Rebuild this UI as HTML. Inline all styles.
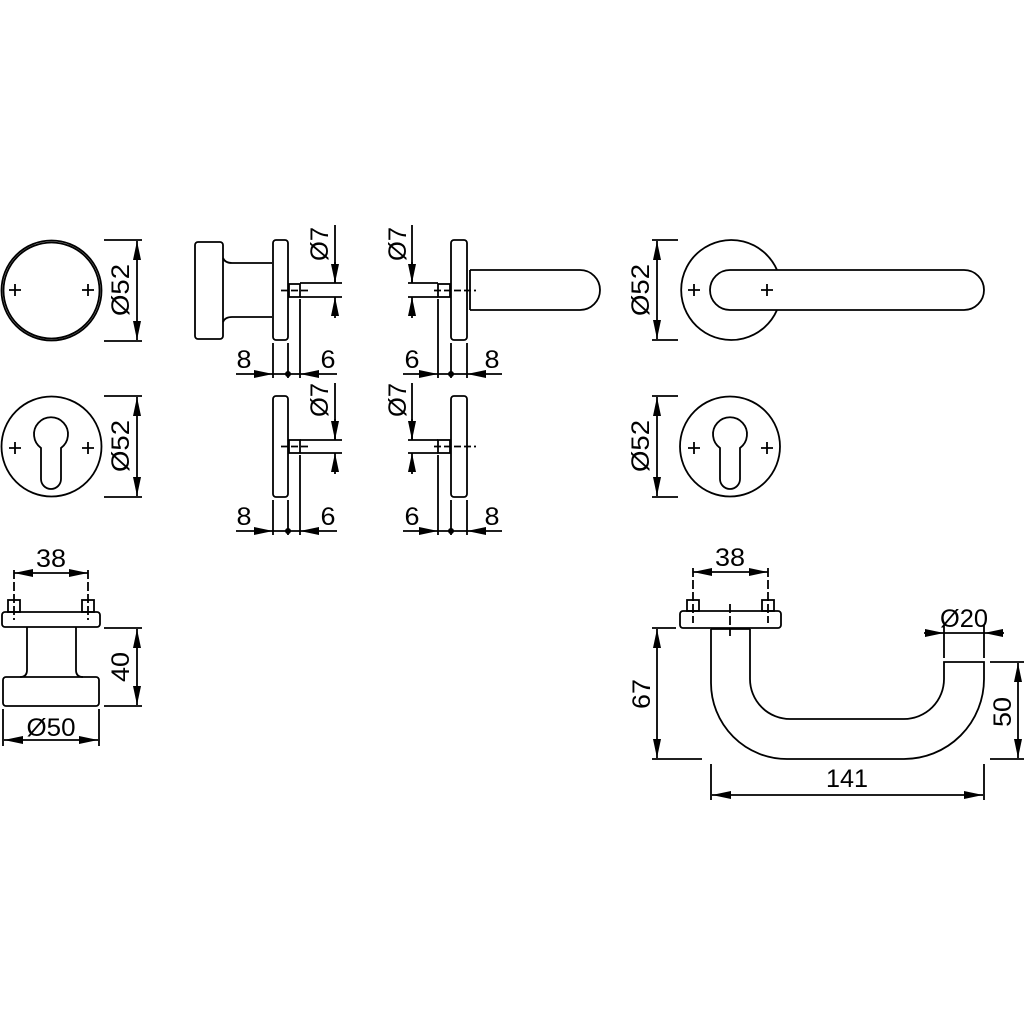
<!DOCTYPE html>
<html><head><meta charset="utf-8"><style>
html,body{margin:0;padding:0;background:#fff}
svg{display:block}
text{font-family:"Liberation Sans",Arial,sans-serif;font-size:25px;fill:#000}
</style></head><body>
<svg width="1024" height="1024" viewBox="0 0 1024 1024" xmlns="http://www.w3.org/2000/svg">
<defs>
<marker id="a" markerUnits="userSpaceOnUse" markerWidth="20" markerHeight="9" refX="19" refY="4.5" orient="auto-start-reverse" viewBox="0 0 20 9">
<path d="M0,0.5 L19,4.5 L0,8.5 Z" fill="#000"/></marker>
</defs>
<g fill="none" stroke="#000" stroke-width="1.8">
<circle cx="51.5" cy="290.5" r="50"/>
<circle cx="51.5" cy="290.5" r="48"/>
<path d="M9,290h12M15,284v12M82,290h12M88,284v12"/>
<path d="M104,240h38M104,341h38"/>
<line x1="137" y1="290" x2="137" y2="241" marker-end="url(#a)"/>
<line x1="137" y1="290" x2="137" y2="340" marker-end="url(#a)"/>
<rect x="195" y="242" width="28" height="97" rx="3"/>
<path d="M223,258 Q225,263 232,263 H272 M223,322 Q225,317 232,317 H272"/>
<rect x="273" y="240" width="15" height="100" rx="3"/>
<rect x="289" y="284" width="11" height="13"/>
<path d="M281,290.5h30" stroke-dasharray="7,3"/>
<path d="M300,283h42M300,297h42"/>
<path d="M335,225v58"/><line x1="335" y1="262" x2="335" y2="283" marker-end="url(#a)"/>
<line x1="335" y1="318" x2="335" y2="297" marker-end="url(#a)"/>
<path d="M273,343v35M288,343v35M300,299v79"/>
<line x1="236" y1="374" x2="273" y2="374" marker-end="url(#a)"/>
<line x1="273" y1="374" x2="300" y2="374"/>
<line x1="337" y1="374" x2="300" y2="374" marker-end="url(#a)"/>
<circle cx="51.5" cy="446.5" r="50"/>
<path d="M41,479 V448 A17,17 0 1 1 61,448 V479 A10,10 0 0 1 41,479 Z"/>
<path d="M9,448h12M15,442v12M82,448h12M88,442v12"/>
<path d="M104,396h38M104,497h38"/>
<line x1="137" y1="446" x2="137" y2="397" marker-end="url(#a)"/>
<line x1="137" y1="446" x2="137" y2="496" marker-end="url(#a)"/>
<rect x="273" y="396" width="15" height="101" rx="3"/>
<rect x="289" y="440" width="11" height="13"/>
<path d="M281,446.5h30" stroke-dasharray="7,3"/>
<path d="M300,440h42M300,453h42"/>
<path d="M335,383v57"/><line x1="335" y1="419" x2="335" y2="440" marker-end="url(#a)"/>
<line x1="335" y1="474" x2="335" y2="453" marker-end="url(#a)"/>
<path d="M273,500v35M288,500v35M300,455v80"/>
<line x1="236" y1="531" x2="273" y2="531" marker-end="url(#a)"/>
<line x1="273" y1="531" x2="300" y2="531"/>
<line x1="337" y1="531" x2="300" y2="531" marker-end="url(#a)"/>
<rect x="451" y="240" width="16" height="100" rx="3"/>
<path d="M470,270 V310 M470,270 H580 A20,20 0 0 1 580,310 H470"/>
<rect x="438" y="284" width="12" height="13"/>
<path d="M434,290.5h42" stroke-dasharray="7,3"/>
<path d="M408,283h30M408,297h30"/>
<path d="M412,225v58"/><line x1="412" y1="262" x2="412" y2="283" marker-end="url(#a)"/>
<line x1="412" y1="318" x2="412" y2="297" marker-end="url(#a)"/>
<path d="M438,299v79M451,343v35M467,343v35"/>
<line x1="403" y1="374" x2="438" y2="374" marker-end="url(#a)"/>
<line x1="438" y1="374" x2="467" y2="374"/>
<line x1="502" y1="374" x2="467" y2="374" marker-end="url(#a)"/>
<rect x="451" y="396" width="16" height="101" rx="3"/>
<rect x="438" y="440" width="12" height="13"/>
<path d="M434,446.5h42" stroke-dasharray="7,3"/>
<path d="M408,440h30M408,453h30"/>
<path d="M412,383v57"/><line x1="412" y1="419" x2="412" y2="440" marker-end="url(#a)"/>
<line x1="412" y1="474" x2="412" y2="453" marker-end="url(#a)"/>
<path d="M438,455v80M451,500v35M467,500v35"/>
<line x1="403" y1="531" x2="438" y2="531" marker-end="url(#a)"/>
<line x1="438" y1="531" x2="467" y2="531"/>
<line x1="502" y1="531" x2="467" y2="531" marker-end="url(#a)"/>
<path d="M777,270 A50,50 0 1 0 777,310"/>
<path d="M730,270 H964 A20,20 0 0 1 964,310 H730 A20,20 0 0 1 730,270 Z"/>
<path d="M688,290h12M694,284v12M761,290h12M767,284v12"/>
<path d="M652,240h26M652,340h26"/>
<line x1="657" y1="290" x2="657" y2="241" marker-end="url(#a)"/>
<line x1="657" y1="290" x2="657" y2="339" marker-end="url(#a)"/>
<circle cx="730" cy="446.5" r="50"/>
<path d="M720,479 V448 A17,17 0 1 1 740,448 V479 A10,10 0 0 1 720,479 Z"/>
<path d="M688,448h12M694,442v12M761,448h12M767,442v12"/>
<path d="M652,396h26M652,497h26"/>
<line x1="657" y1="446" x2="657" y2="397" marker-end="url(#a)"/>
<line x1="657" y1="446" x2="657" y2="496" marker-end="url(#a)"/>
<rect x="2" y="612" width="98" height="15" rx="3"/>
<rect x="8" y="600" width="12" height="12"/>
<rect x="82" y="600" width="12" height="12"/>
<path d="M14,570v50M88,570v50" stroke-dasharray="9,3"/>
<line x1="51" y1="573" x2="14" y2="573" marker-end="url(#a)"/>
<line x1="51" y1="573" x2="88" y2="573" marker-end="url(#a)"/>
<path d="M27,627 V670 Q27,677 20,677 M76,627 V670 Q76,677 83,677"/>
<rect x="3" y="677" width="96" height="29" rx="3"/>
<path d="M104,628h38M104,706h38"/>
<line x1="137" y1="667" x2="137" y2="629" marker-end="url(#a)"/>
<line x1="137" y1="667" x2="137" y2="705" marker-end="url(#a)"/>
<path d="M3,709v37M99,709v37"/>
<line x1="51" y1="740" x2="4" y2="740" marker-end="url(#a)"/>
<line x1="51" y1="740" x2="98" y2="740" marker-end="url(#a)"/>
<rect x="680" y="611" width="101" height="17" rx="3"/>
<rect x="687" y="600" width="12" height="11"/>
<rect x="762" y="600" width="12" height="11"/>
<path d="M693,568v55M768,568v55M730,604v32" stroke-dasharray="9,3"/>
<line x1="730" y1="572" x2="693" y2="572" marker-end="url(#a)"/>
<line x1="730" y1="572" x2="768" y2="572" marker-end="url(#a)"/>
<path d="M711,629 H750"/>
<path d="M711,629 V683 A76,76 0 0 0 787,759 H904 A80,80 0 0 0 984,679 V662 H944 V679 A40,40 0 0 1 904,719 H790 A40,40 0 0 1 750,679 V629"/>
<path d="M652,628h24M652,759h50"/>
<line x1="657" y1="694" x2="657" y2="629" marker-end="url(#a)"/>
<line x1="657" y1="694" x2="657" y2="758" marker-end="url(#a)"/>
<path d="M990,662h34M990,759h34"/>
<line x1="1018" y1="710" x2="1018" y2="663" marker-end="url(#a)"/>
<line x1="1018" y1="710" x2="1018" y2="758" marker-end="url(#a)"/>
<path d="M711,764v36M984,764v36"/>
<line x1="847" y1="795" x2="712" y2="795" marker-end="url(#a)"/>
<line x1="847" y1="795" x2="983" y2="795" marker-end="url(#a)"/>
<path d="M944,625v33M984,625v33"/>
<line x1="924" y1="633" x2="944" y2="633" marker-end="url(#a)"/>
<line x1="944" y1="633" x2="984" y2="633"/>
<line x1="1004" y1="633" x2="984" y2="633" marker-end="url(#a)"/>
</g>
<g fill="#000">
<circle cx="288" cy="374" r="3"/><circle cx="288" cy="531" r="3"/>
<circle cx="451" cy="374" r="3"/><circle cx="451" cy="531" r="3"/>
</g>
<g text-anchor="middle">
<text transform="translate(129,290) rotate(-90)" textLength="52" lengthAdjust="spacingAndGlyphs">Ø52</text>
<text transform="translate(129,446) rotate(-90)" textLength="52" lengthAdjust="spacingAndGlyphs">Ø52</text>
<text transform="translate(649,290) rotate(-90)" textLength="52" lengthAdjust="spacingAndGlyphs">Ø52</text>
<text transform="translate(649,446) rotate(-90)" textLength="52" lengthAdjust="spacingAndGlyphs">Ø52</text>
<text transform="translate(328,244) rotate(-90)" textLength="34" lengthAdjust="spacingAndGlyphs">Ø7</text>
<text transform="translate(328,400) rotate(-90)" textLength="34" lengthAdjust="spacingAndGlyphs">Ø7</text>
<text transform="translate(406,244) rotate(-90)" textLength="34" lengthAdjust="spacingAndGlyphs">Ø7</text>
<text transform="translate(406,400) rotate(-90)" textLength="34" lengthAdjust="spacingAndGlyphs">Ø7</text>
<text x="244" y="368" textLength="15" lengthAdjust="spacingAndGlyphs">8</text><text x="328" y="368" textLength="15" lengthAdjust="spacingAndGlyphs">6</text>
<text x="244" y="525" textLength="15" lengthAdjust="spacingAndGlyphs">8</text><text x="328" y="525" textLength="15" lengthAdjust="spacingAndGlyphs">6</text>
<text x="412" y="368" textLength="15" lengthAdjust="spacingAndGlyphs">6</text><text x="492" y="368" textLength="15" lengthAdjust="spacingAndGlyphs">8</text>
<text x="412" y="525" textLength="15" lengthAdjust="spacingAndGlyphs">6</text><text x="492" y="525" textLength="15" lengthAdjust="spacingAndGlyphs">8</text>
<text x="51" y="567" textLength="30" lengthAdjust="spacingAndGlyphs">38</text>
<text transform="translate(129,667) rotate(-90)" textLength="30" lengthAdjust="spacingAndGlyphs">40</text>
<text x="51" y="736" textLength="49" lengthAdjust="spacingAndGlyphs">Ø50</text>
<text x="730" y="566" textLength="30" lengthAdjust="spacingAndGlyphs">38</text>
<text x="964" y="627" textLength="48" lengthAdjust="spacingAndGlyphs">Ø20</text>
<text transform="translate(650,694) rotate(-90)" textLength="30" lengthAdjust="spacingAndGlyphs">67</text>
<text transform="translate(1011,712) rotate(-90)" textLength="30" lengthAdjust="spacingAndGlyphs">50</text>
<text x="847" y="787" textLength="42" lengthAdjust="spacingAndGlyphs">141</text>
</g>
</svg>
</body></html>
